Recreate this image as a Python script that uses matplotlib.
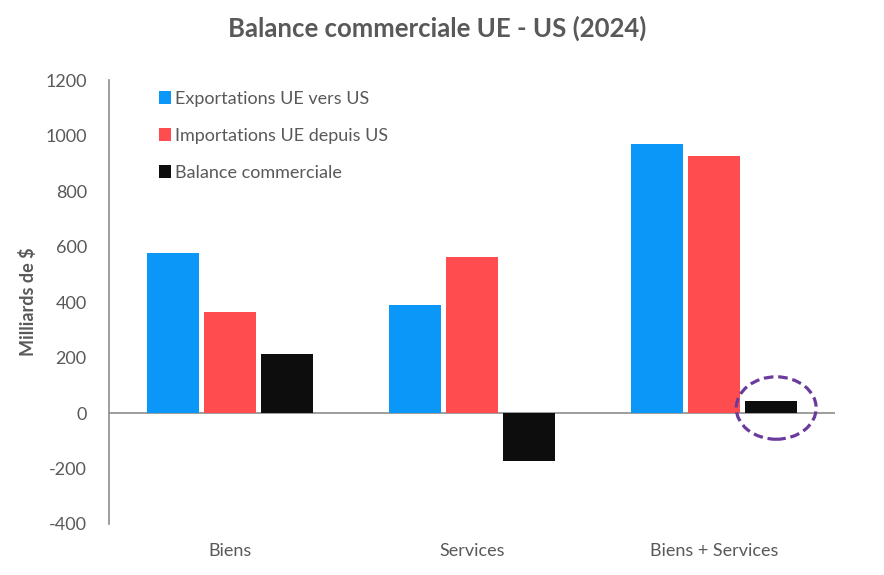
import matplotlib
matplotlib.use("Agg")
import matplotlib.pyplot as plt
import numpy as np
from matplotlib.patches import Ellipse

categories = ["Biens", "Services", "Biens + Services"]
exportations = [578, 390, 968]
importations = [365, 563, 926]
balance = [213, -173, 42]
series_names = ["Exportations UE vers US", "Importations UE depuis US", "Balance commerciale"]
yticks = [-400, -200, 0, 200, 400, 600, 800, 1000, 1200]

grey = "#595959"
colors = ["#0A97F7", "#FF4D4F", "#0D0D0D"]
plt.rcParams['font.family'] = ['Lato', 'DejaVu Sans']

fig = plt.figure(figsize=(8.84, 5.75), dpi=100)
ax = fig.add_axes([0.1233, 0.0887, 0.8213, 0.772])

x = np.arange(len(categories))
w = 0.215
step = 0.237
for i, (vals, c, name) in enumerate(zip([exportations, importations, balance], colors, series_names)):
    ax.bar(x + (i - 1) * step, vals, width=w, color=c, label=name, zorder=3)

ax.set_xlim(-0.5, 2.5)
ax.set_ylim(-400, 1200)
ax.set_yticks(yticks)
ax.set_yticklabels([str(t) for t in yticks], fontsize=13, color=grey)
ax.set_xticks(x)
ax.set_xticklabels(categories, fontsize=13, color=grey)
ax.tick_params(axis='both', length=0)
ax.tick_params(axis='x', pad=14)
ax.tick_params(axis='y', pad=16)
for s in ["top", "right", "bottom"]:
    ax.spines[s].set_visible(False)
ax.spines["left"].set_color("#8C8C8C")
ax.spines["left"].set_linewidth(1.2)
ax.axhline(0, color="#8C8C8C", linewidth=1.2, zorder=2)

ax.set_ylabel("Milliards de $", fontsize=13, fontweight="bold", color=grey, labelpad=6)
fig.suptitle("Balance commerciale UE - US (2024)", fontsize=18.5, fontweight="bold",
             color=grey, x=0.495, y=0.972)

leg = ax.legend(loc="upper left", bbox_to_anchor=(0.046, 1.012), frameon=False,
                fontsize=13, labelcolor=grey, handlelength=0.7, handleheight=0.7,
                handletextpad=0.2, labelspacing=1.15)

ell = Ellipse((2.257, 18), width=0.33, height=225, fill=False, edgecolor="#6A3A9C",
              linewidth=2.3, linestyle=(0, (3, 1.5)), zorder=4, clip_on=False)
ax.add_patch(ell)

fig.savefig("out.png", dpi=100)
